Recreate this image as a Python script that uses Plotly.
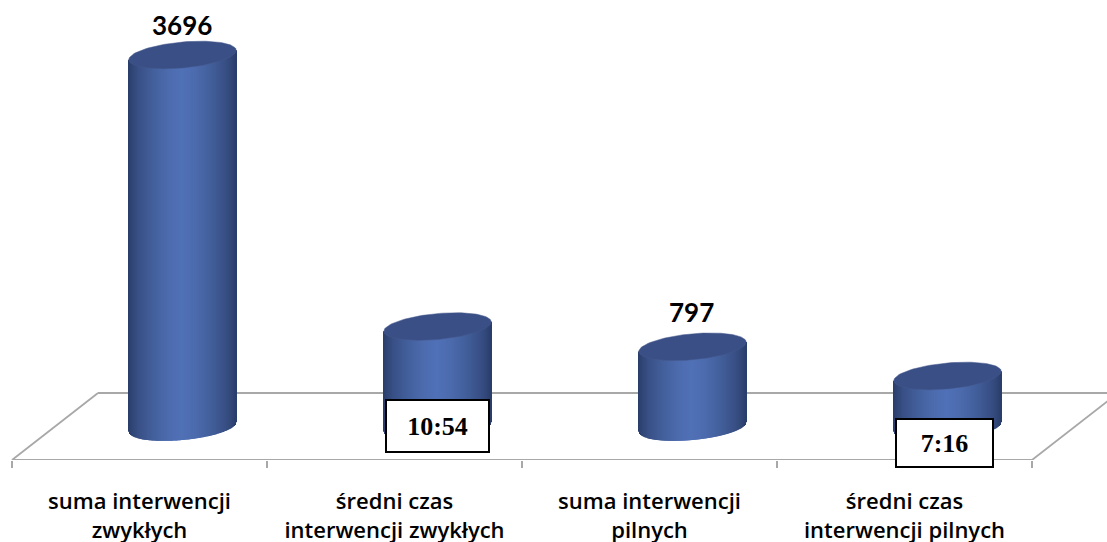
import numpy as np
import plotly.graph_objects as go

categories = ["suma interwencji<br>zwykłych", "średni czas<br>interwencji zwykłych",
              "suma interwencji<br>pilnych", "średni czas<br>interwencji pilnych"]
values = [3696, 998, 797, 507]
value_labels = ["3696", "10:54", "797", "7:16"]
boxed = [False, True, False, True]

W, H = 1107, 542
X_PER_PX = 1 / 255
Y_PER_PX = 1 / 0.10065
AXIS_PY, ZERO_PY = 460, 427
x0 = -139.5 * X_PER_PX
x1 = x0 + W * X_PER_PX
y0 = (ZERO_PY - AXIS_PY) * Y_PER_PX
y1 = ZERO_PY * Y_PER_PX

shift = 43 * X_PER_PX
half = 53.7 * X_PER_PX
b = 13 * Y_PER_PX
k = 4.7 * Y_PER_PX
stops_u = [0, 0.25, 0.55, 0.8, 0.93, 1]
stops_r = [0x50, 0x4c, 0x42, 0x38, 0x30, 0x2a]
stops_g = [0x70, 0x6b, 0x5e, 0x50, 0x46, 0x3e]
stops_b = [0xb7, 0xae, 0x9a, 0x86, 0x76, 0x6c]

fig = go.Figure()
us = np.linspace(-1, 1, 109)
for i, v in enumerate(values):
    cx = i + shift
    lower = -b * np.sqrt(1 - us ** 2) + k * us
    upper = v + k * us
    cols = [f"rgb({np.interp(abs(u), stops_u, stops_r):.0f},{np.interp(abs(u), stops_u, stops_g):.0f},{np.interp(abs(u), stops_u, stops_b):.0f})" for u in us]
    fig.add_bar(x=cx + us * half, y=upper - lower, base=lower, width=1.5 * X_PER_PX,
                marker=dict(color=cols, line=dict(width=0)), hoverinfo="skip", showlegend=False)
    t = np.linspace(0, 2 * np.pi, 120)
    fig.add_scatter(x=cx + half * np.cos(t), y=v + b * np.sin(t) + k * np.cos(t), mode="lines",
                    fill="toself", fillcolor="#394f86", line=dict(color="#46598c", width=0.5),
                    hoverinfo="skip", showlegend=False)

# floor of the 3-D plot
depth_x = 86 * X_PER_PX
depth_y = 67 * Y_PER_PX
fl = -0.5
fr = 3.5
floor = [((fl, y0), (fr, y0)), ((fl, y0), (fl + depth_x, y0 + depth_y)),
         ((fl + depth_x, y0 + depth_y), (fr + depth_x, y0 + depth_y)),
         ((fr, y0), (fr + depth_x, y0 + depth_y))]
shapes = [dict(type="line", xref="x", yref="y", layer="below", x0=a[0], y0=a[1], x1=c[0], y1=c[1],
               line=dict(color="#a8a8a8", width=1.8)) for a, c in floor]

annotations = []
label_shift = {0: 12, 2: 17}
for i, (v, lab, bx) in enumerate(zip(values, value_labels, boxed)):
    if bx:
        annotations.append(dict(x=i + shift + (-3 if i == 3 else 0) * X_PER_PX, y=0, text=f"<b>{lab}</b>",
                                xref="x", yref="y", showarrow=False, yshift=1 if i == 1 else -16,
                                font=dict(family="Liberation Serif", size=26, color="black"),
                                bgcolor="white", bordercolor="black", borderwidth=2,
                                width=99 if i == 1 else 93, height=48 if i == 1 else 44))
    else:
        annotations.append(dict(x=i + shift - 1 * X_PER_PX, y=v, text=f"<b>{lab}</b>", xref="x", yref="y",
                                showarrow=False, yanchor="bottom", yshift=label_shift[i],
                                font=dict(family="Lato", size=26, color="black")))

fig.update_layout(
    width=W, height=H, margin=dict(l=0, r=0, t=0, b=0, autoexpand=False), paper_bgcolor="white", plot_bgcolor="white",
    barmode="overlay", showlegend=False, shapes=shapes, annotations=annotations,
    xaxis=dict(range=[x0, x1], showgrid=False, zeroline=False, showline=False, tickmode="array",
               automargin=False,
               tickvals=list(range(len(categories))), ticktext=categories, ticks="", ticklen=0,
               ticklabelstandoff=26,
               tickfont=dict(family="Open Sans", size=22, color="black", weight=600),
               minor=dict(tickmode="array", tickvals=[fl + j for j in range(5)], ticks="outside", ticklen=7,
                          tickwidth=1.5, tickcolor="#a8a8a8", showgrid=False)),
    yaxis=dict(range=[y0, y1], domain=[(H - AXIS_PY) / H, 1], visible=False),
)
fig.write_html("out.html", config=dict(displayModeBar=False), post_script="document.body.style.margin='0';")
